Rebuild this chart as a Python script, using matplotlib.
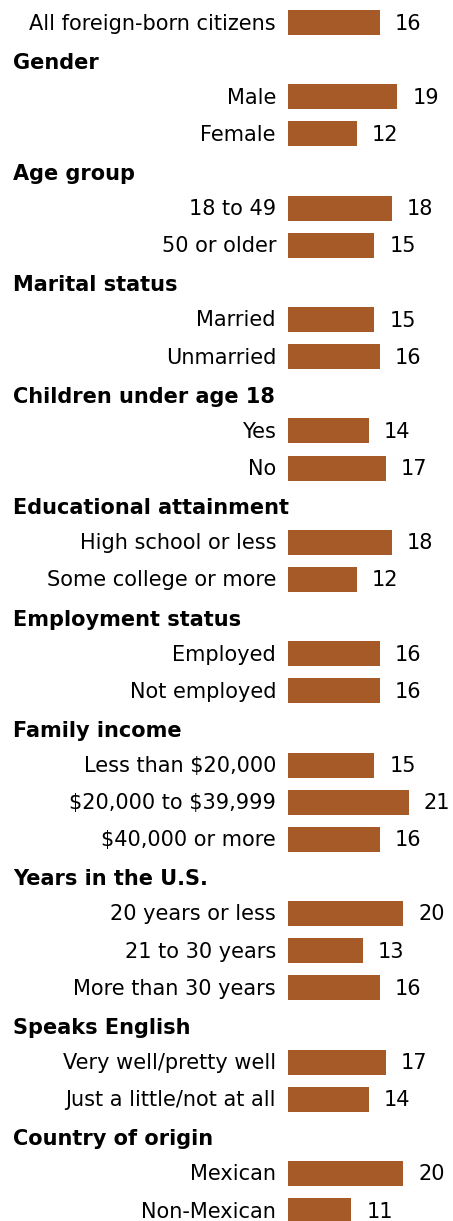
import numpy as np
import matplotlib
matplotlib.use("Agg")
import matplotlib.pyplot as plt

# rows: (label, value); value None means section header
labels = ["All foreign-born citizens",
          "Gender", "Male", "Female",
          "Age group", "18 to 49", "50 or older",
          "Marital status", "Married", "Unmarried",
          "Children under age 18", "Yes", "No",
          "Educational attainment", "High school or less", "Some college or more",
          "Employment status", "Employed", "Not employed",
          "Family income", "Less than $20,000", "$20,000 to $39,999", "$40,000 or more",
          "Years in the U.S.", "20 years or less", "21 to 30 years", "More than 30 years",
          "Speaks English", "Very well/pretty well", "Just a little/not at all",
          "Country of origin", "Mexican", "Non-Mexican"]
values = [16,
          None, 19, 12,
          None, 18, 15,
          None, 15, 16,
          None, 14, 17,
          None, 18, 12,
          None, 16, 16,
          None, 15, 21, 16,
          None, 20, 13, 16,
          None, 17, 14,
          None, 20, 11]

W, H = 453, 1221
fig = plt.figure(figsize=(W / 100, H / 100), dpi=100)
bar_left = 288
px_per_unit = 5.75
row_h = 37.125
first = 22.5

ax = fig.add_axes([bar_left / W, 0, (W - bar_left) / W, 1])
ax.set_xlim(0, (W - bar_left) / px_per_unit)
ax.set_ylim((H - first) / row_h, -first / row_h)
ax.axis("off")

color = "#A65A28"
fs = 15
for i, (lab, v) in enumerate(zip(labels, values)):
    yf = 1 - (first + 1 + i * row_h) / H
    if v is None:
        fig.text(13 / W, yf - 2 / H, lab, ha="left", va="center", fontsize=fs,
                 fontweight="bold", color="black", parse_math=False)
    else:
        ax.barh(i, v, height=25 / row_h, color=color)
        fig.text(276 / W, yf, lab, ha="right", va="center", fontsize=fs,
                 color="black", parse_math=False)
        ax.annotate(str(v), (v, i), xytext=(15, -1), textcoords="offset pixels",
                    ha="left", va="center", fontsize=fs, color="black")

fig.savefig("out.png", dpi=100)
